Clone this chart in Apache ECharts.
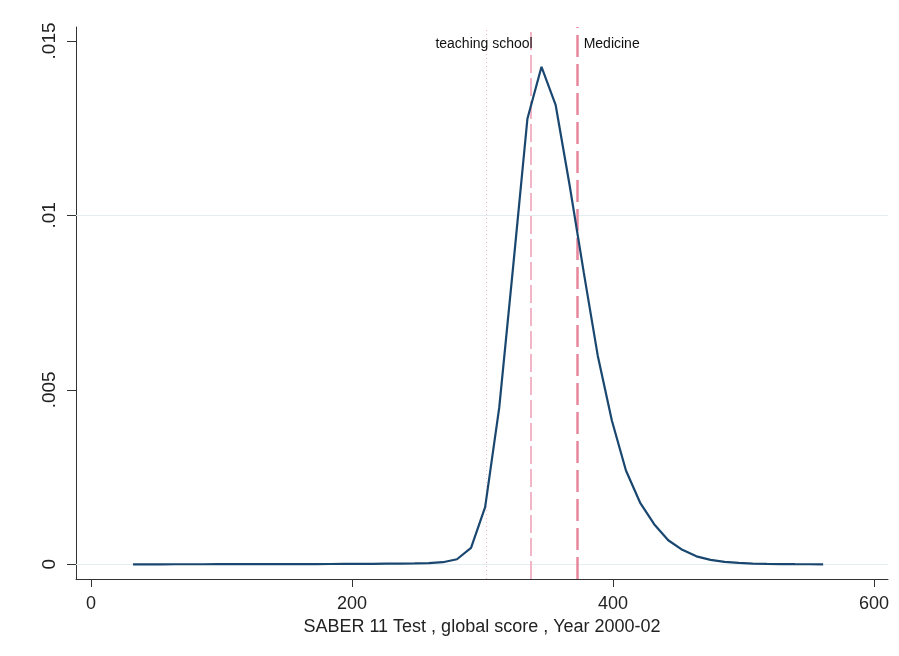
<!DOCTYPE html>
<html>
<head>
<meta charset="utf-8">
<script src="https://cdn.jsdelivr.net/npm/echarts@6/dist/echarts.min.js"></script>
<style>
html,body{margin:0;padding:0;background:#fff;}
#chart{width:899px;height:656px;}
</style>
</head>
<body>
<div id="chart"></div>
<script>
// Kernel density evaluation points (SABER 11 global score)
const scores = [32.2,43.0,53.8,64.6,75.4,86.2,96.9,107.7,118.5,129.3,
  140.1,150.9,161.7,172.5,183.3,194.1,204.9,215.7,226.5,237.2,
  248.0,258.8,269.6,280.4,291.2,302.0,312.8,323.6,334.4,345.2,
  356.0,366.8,377.6,388.3,399.1,409.9,420.7,431.5,442.3,453.1,
  463.9,474.7,485.5,496.3,507.1,517.9,528.7,539.4,550.2,561.0];
const density = [0.000001,0.000001,0.000001,0.000002,0.000002,0.000002,0.000003,0.000003,0.000004,0.000004,
  0.000005,0.000006,0.000007,0.000008,0.000009,0.000011,0.000013,0.000015,0.000018,0.000021,
  0.000026,0.000036,0.000060,0.000145,0.000472,0.00164,0.00449,0.00858,0.01277,0.01426,
  0.01317,0.01085,0.00836,0.00598,0.00412,0.00269,0.00177,0.00115,0.00069,0.000415,
  0.000229,0.000129,0.000072,0.000040,0.000022,0.000012,0.000007,0.000004,0.000002,0.000001];
const xTicks = [0, 200, 400, 600];
const yTicks = [0, 0.005, 0.01, 0.015];
const refLines = [302.7, 336.9, 372.9]; // dotted, teaching school, Medicine
const refLabels = ['teaching school', 'Medicine'];
const xTitle = 'SABER 11 Test , global score , Year 2000-02';

const FONT = '"Liberation Sans", Arial, sans-serif';
const chart = echarts.init(document.getElementById('chart'), null, {renderer: 'canvas'});
const fmtY = v => (v === 0 ? '0' : String(+v.toFixed(4)).replace(/^0/, ''));

chart.setOption({
  animation: false,
  backgroundColor: '#ffffff',
  grid: {left: 76, right: 11, top: 27, bottom: 77, containLabel: false},
  xAxis: {
    type: 'value',
    min: -11.5, max: 610.7,
    name: xTitle,
    nameLocation: 'middle',
    nameGap: 31,
    nameTextStyle: {fontFamily: FONT, fontSize: 18, color: '#222', verticalAlign: 'top'},
    axisLine: {show: true, onZero: false, lineStyle: {color: '#333', width: 1}},
    axisTick: {show: true, length: 8, customValues: xTicks, lineStyle: {color: '#333'}},
    axisLabel: {show: true, customValues: xTicks, margin: 16, fontFamily: FONT, fontSize: 18, color: '#222',
      formatter: v => String(v)},
    splitLine: {show: false}
  },
  yAxis: {
    type: 'value',
    min: -0.000421, max: 0.0154,
    axisLine: {show: true, onZero: false, lineStyle: {color: '#333', width: 1}},
    axisTick: {show: true, length: 9, customValues: yTicks, lineStyle: {color: '#333'}},
    axisLabel: {show: true, customValues: yTicks, rotate: 90, margin: 17, fontFamily: FONT, fontSize: 19, color: '#222',
      formatter: fmtY},
    splitLine: {show: false}
  },
  series: [
    {
      type: 'line',
      data: scores.map((s, i) => [s, density[i]]),
      showSymbol: false,
      symbol: 'none',
      lineStyle: {color: '#1a476f', width: 2.2},
      z: 5,
      markLine: {
        silent: true, symbol: 'none', label: {show: false},
        lineStyle: {color: '#e4edf0', width: 1, type: 'solid'},
        data: yTicks.map(v => ({yAxis: v}))
      }
    },
    {
      type: 'line', data: [], z: 3,
      markLine: {
        silent: true, symbol: 'none', label: {show: false},
        data: [
          {xAxis: refLines[0], lineStyle: {color: '#f0b5c4', width: 1, type: [1, 3]}},
          {xAxis: refLines[1], lineStyle: {color: '#f2b5c6', width: 2, type: [18, 5]}},
          {xAxis: refLines[2], lineStyle: {color: '#e8879c', width: 2.5, type: [22, 7]}}
        ]
      },
      markPoint: {
        silent: true, symbol: 'circle', symbolSize: 0,
        data: [
          {coord: [refLines[1], 0.01491], label: {show: true, formatter: refLabels[0], position: 'inside',
            align: 'right', verticalAlign: 'middle', offset: [2, 0], fontFamily: FONT, fontSize: 14, color: '#111'}},
          {coord: [refLines[2], 0.01491], label: {show: true, formatter: refLabels[1], position: 'inside',
            align: 'left', verticalAlign: 'middle', offset: [6, 0], fontFamily: FONT, fontSize: 14, color: '#111'}}
        ]
      }
    }
  ]
});
</script>
</body>
</html>
